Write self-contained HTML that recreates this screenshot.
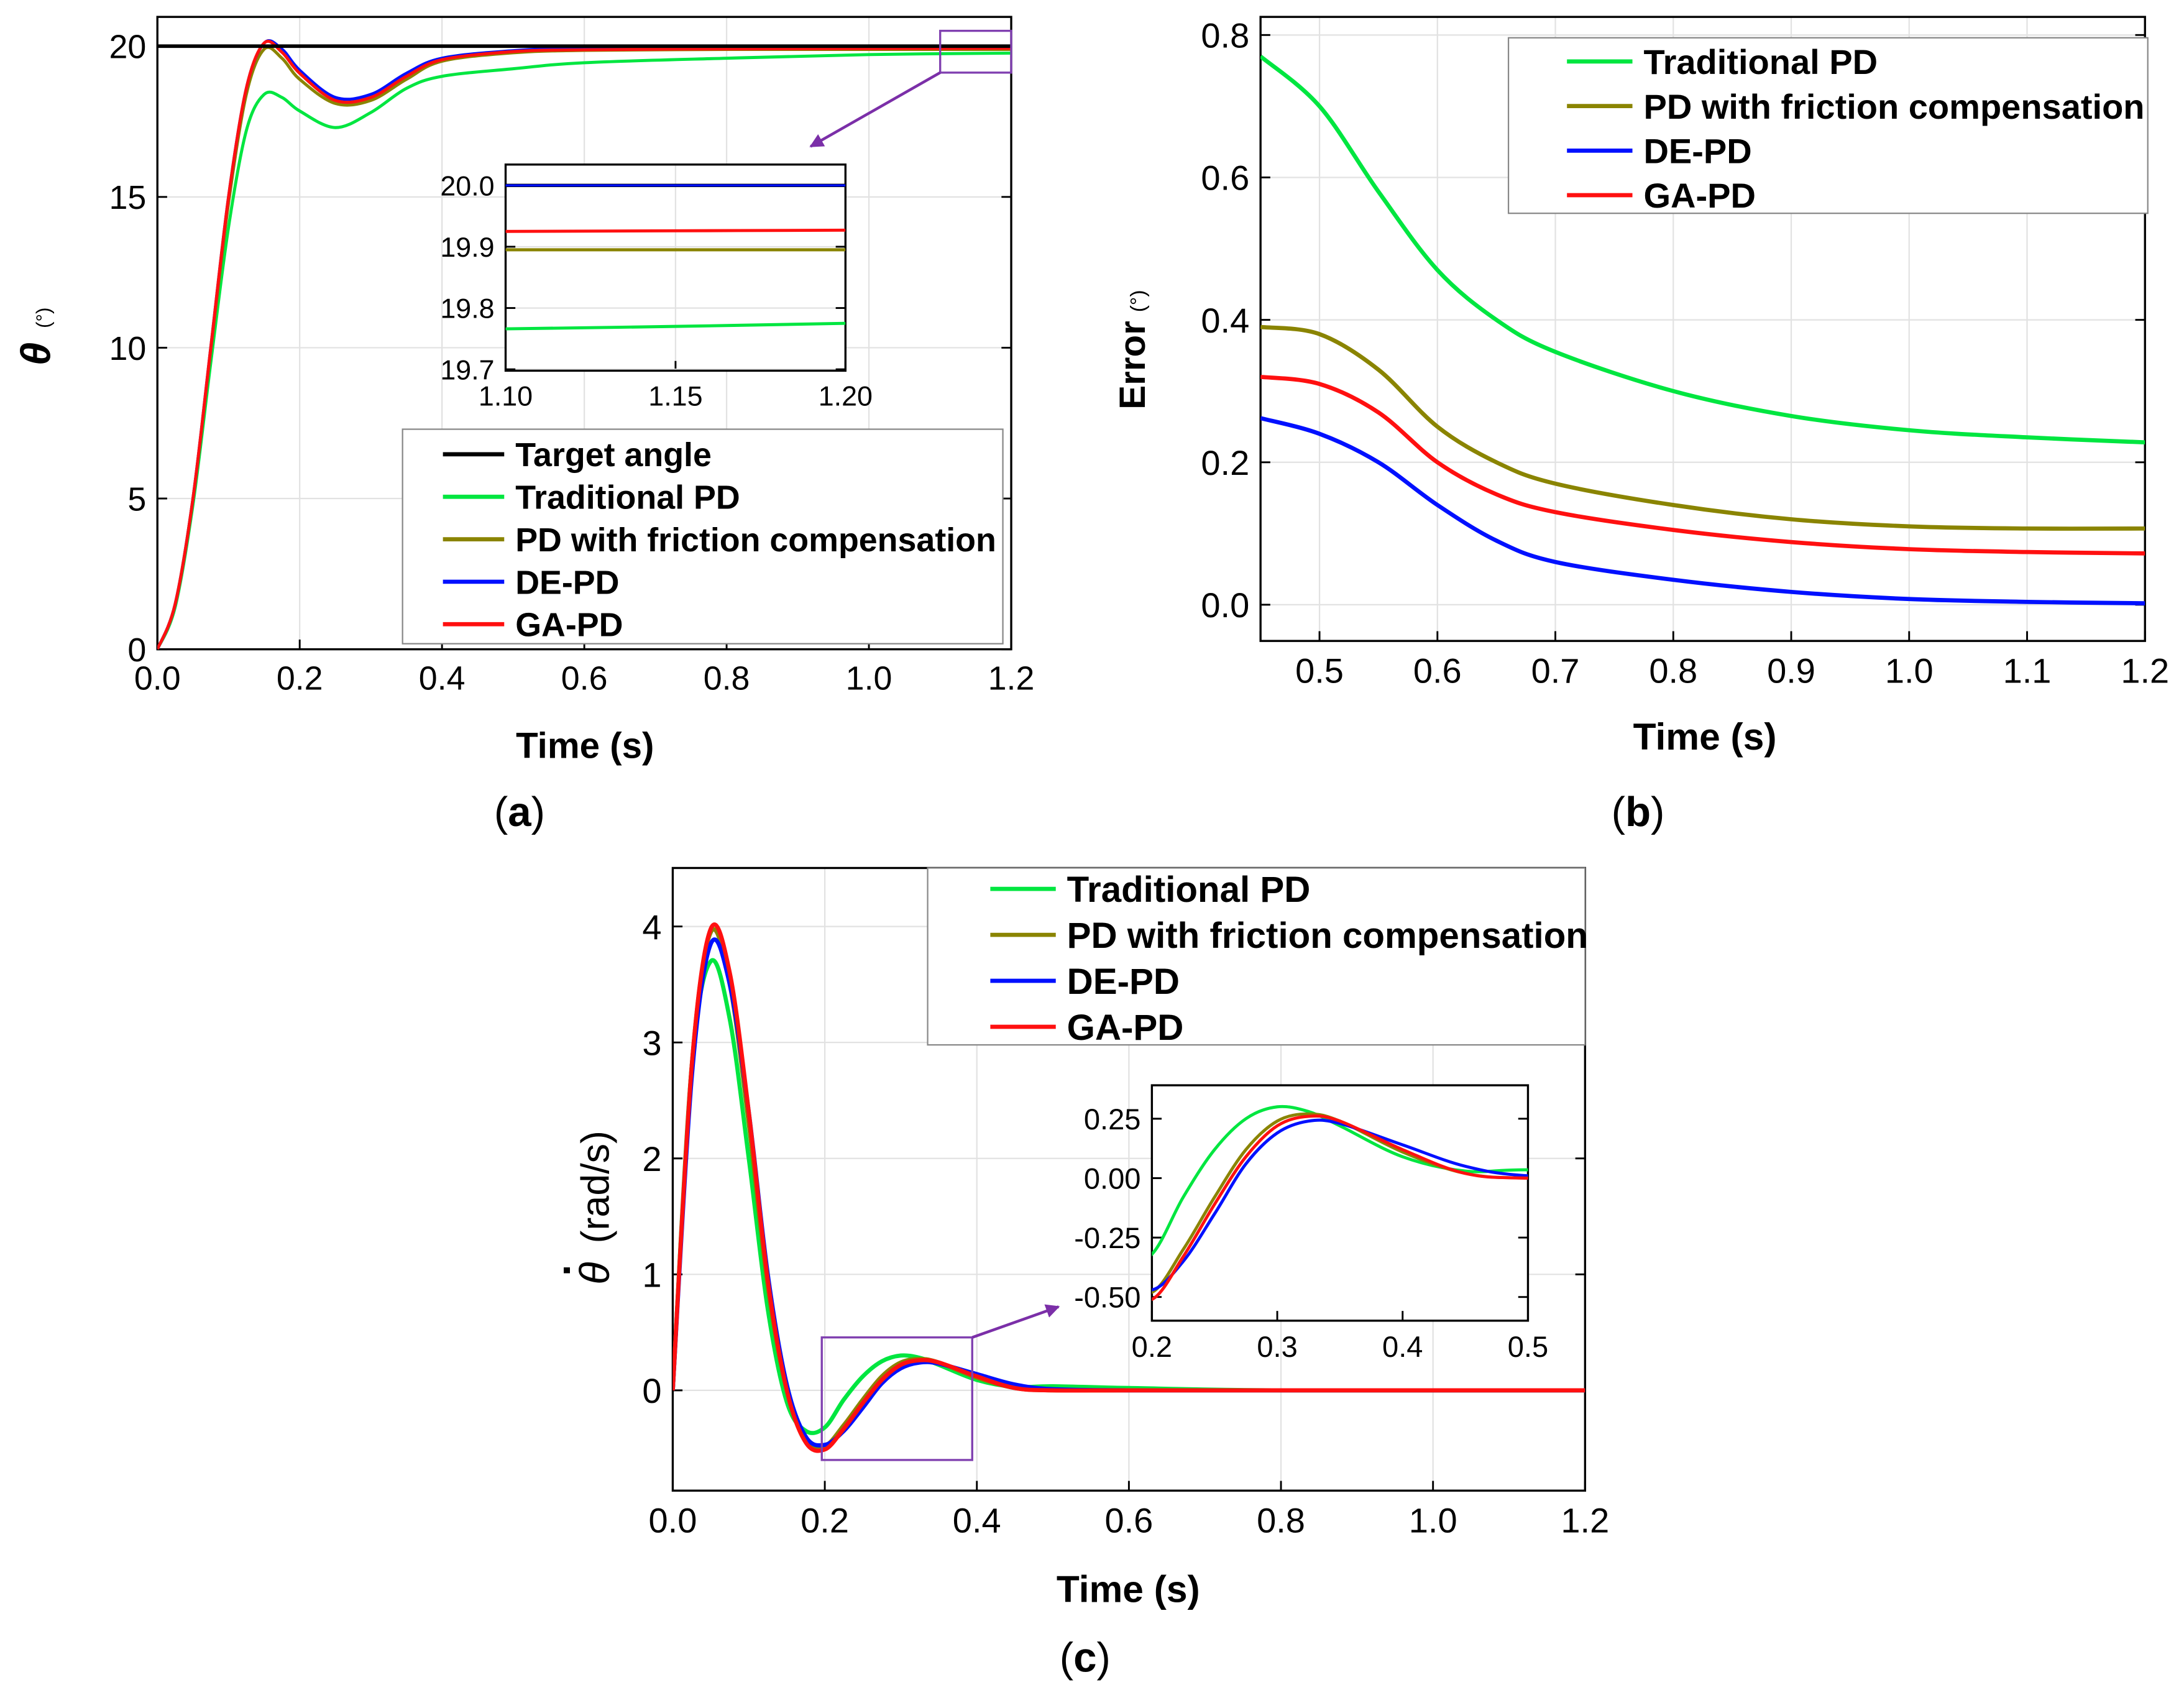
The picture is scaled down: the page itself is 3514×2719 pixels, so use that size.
<!DOCTYPE html>
<html><head><meta charset="utf-8"><style>
html,body{margin:0;padding:0;background:#fff}
svg{display:block}
text{font-family:"Liberation Sans",sans-serif}
</style></head><body>
<svg id="s" width="3514" height="2719" viewBox="0 0 1568 1213" xmlns="http://www.w3.org/2000/svg">
<defs>
<clipPath id="ca"><rect x="113" y="12" width="613" height="454"/></clipPath>
<clipPath id="cai"><rect x="363" y="118" width="244" height="148"/></clipPath>
<clipPath id="cb"><rect x="905" y="12" width="635" height="448"/></clipPath>
<clipPath id="cc"><rect x="483" y="623" width="655" height="447"/></clipPath>
<clipPath id="cci"><rect x="827" y="779" width="270" height="169"/></clipPath>
<marker id="ar" viewBox="0 0 10 10" refX="9" refY="5" markerWidth="5" markerHeight="5" orient="auto"><path d="M0,0L10,5L0,10z" fill="#7b2fa8"/></marker>
</defs>
<g id="root"></g>
</svg>
<script>
// ---------- data ----------
const tA=[0,0.025,0.05,0.075,0.1,0.125,0.15,0.175,0.2,0.25,0.3,0.35,0.4,0.5,0.6,0.8,1.0,1.2];
const aTarget=[20,20,20,20,20,20,20,20,20,20,20,20,20,20,20,20,20,20];
const aTrad=[0,1.4,4.8,9.5,14,17.2,18.4,18.3,17.85,17.3,17.8,18.6,19.0,19.25,19.45,19.6,19.72,19.77];
const aFric=[0,1.5,5,9.9,14.8,18.4,19.9,19.6,18.9,18.1,18.2,18.9,19.5,19.78,19.86,19.89,19.89,19.89];
const aDE=[0,1.5,5,10,15,18.6,20.1,19.9,19.2,18.3,18.4,19.1,19.6,19.85,19.93,19.97,19.99,20.0];
const aGA=[0,1.5,5,10,15,18.6,20.1,19.8,19.1,18.2,18.3,19.0,19.55,19.82,19.88,19.91,19.92,19.93];
const tAi=[1.1,1.15,1.2];
const aiTrad=[19.766,19.77,19.775];
const aiFric=[19.895,19.895,19.895];
const aiDE=[20.0,20.0,20.0];
const aiGA=[19.925,19.926,19.927];
const aiTarget=[20.0,20.0,20.0];
const tB=[0.45,0.5,0.55,0.6,0.65,0.7,0.8,0.9,1.0,1.1,1.2];
const bTrad=[0.77,0.7,0.58,0.47,0.40,0.355,0.30,0.265,0.245,0.235,0.228];
const bFric=[0.39,0.38,0.33,0.25,0.2,0.17,0.14,0.12,0.11,0.107,0.107];
const bDE=[0.262,0.24,0.2,0.14,0.09,0.06,0.035,0.018,0.008,0.004,0.002];
const bGA=[0.32,0.31,0.27,0.2,0.155,0.13,0.105,0.088,0.078,0.074,0.072];
const tC=[0,0.025,0.05,0.075,0.1,0.125,0.15,0.175,0.2,0.225,0.25,0.275,0.3,0.325,0.35,0.4,0.45,0.5,0.6,0.8,1.2];
const cTrad=[0,2.8,3.7,3.2,2.0,0.7,-0.1,-0.35,-0.32,-0.08,0.12,0.25,0.3,0.28,0.22,0.09,0.03,0.035,0.02,0,0];
const cFric=[0,2.8,3.95,3.5,2.3,0.9,0,-0.42,-0.48,-0.3,-0.08,0.12,0.24,0.27,0.24,0.11,0.02,0,0,0,0];
const cDE=[0,2.7,3.85,3.5,2.4,1.0,0.05,-0.4,-0.47,-0.35,-0.15,0.06,0.19,0.24,0.23,0.14,0.05,0.01,0,0,0];
const cGA=[0,2.8,3.98,3.6,2.4,0.95,0,-0.45,-0.51,-0.33,-0.11,0.09,0.22,0.26,0.24,0.12,0.02,0,0,0,0];
const xTicksA=["0.0","0.2","0.4","0.6","0.8","1.0","1.2"], yTicksA=["0","5","10","15","20"];
const xTicksB=["0.5","0.6","0.7","0.8","0.9","1.0","1.1","1.2"], yTicksB=["0.0","0.2","0.4","0.6","0.8"];
const xTicksC=["0.0","0.2","0.4","0.6","0.8","1.0","1.2"], yTicksC=["0","1","2","3","4"];
const xTicksAi=["1.10","1.15","1.20"], yTicksAi=["19.7","19.8","19.9","20.0"];
const xTicksCi=["0.2","0.3","0.4","0.5"], yTicksCi=["0.25","0.00","-0.25","-0.50"];
// ---------- drawing ----------
const NS="http://www.w3.org/2000/svg", root=document.getElementById('root');
const C={g:'#00e640',o:'#8a8400',b:'#0010ff',r:'#ff1010',k:'#000'};
function mk(tag,at,par){const e=document.createElementNS(NS,tag);for(const k in at)e.setAttribute(k,at[k]);(par||root).appendChild(e);return e;}
function lin(d0,d1,p0,p1){return v=>p0+(v-d0)*(p1-p0)/(d1-d0);}
function path(xs,ys,X,Y){const p=xs.map((t,i)=>[X(t),Y(ys[i])]);let d='M'+p[0][0]+','+p[0][1];
 for(let i=0;i<p.length-1;i++){const a=p[Math.max(0,i-1)],b=p[i],c=p[i+1],e=p[Math.min(p.length-1,i+2)];
 d+=' C'+(b[0]+(c[0]-a[0])/6)+','+(b[1]+(c[1]-a[1])/6)+' '+(c[0]-(e[0]-b[0])/6)+','+(c[1]-(e[1]-b[1])/6)+' '+c[0]+','+c[1];}return d;}
function axes(o){
 const g=mk('g',{});
 o.xt.forEach(s=>{const x=o.X(parseFloat(s));
  if(o.grid)mk('line',{x1:x,x2:x,y1:o.t,y2:o.b,stroke:'#e2e2e2','stroke-width':1},g);
  mk('line',{x1:x,x2:x,y1:o.b,y2:o.b-7,stroke:'#000','stroke-width':1.3},g);
  const tx=mk('text',{x:x,y:o.b+o.fs+5,'font-size':o.fs,'text-anchor':'middle'},g);tx.textContent=s;
  });
 o.yt.forEach(s=>{const y=o.Y(parseFloat(s));
  if(o.grid)mk('line',{x1:o.l,x2:o.r,y1:y,y2:y,stroke:'#e2e2e2','stroke-width':1},g);
  mk('line',{x1:o.l,x2:o.l+7,y1:y,y2:y,stroke:'#000','stroke-width':1.3},g);
  mk('line',{x1:o.r,x2:o.r-7,y1:y,y2:y,stroke:'#000','stroke-width':1.3},g);
  const tx=mk('text',{x:o.l-8,y:y+o.fs*0.36,'font-size':o.fs,'text-anchor':'end'},g);tx.textContent=s;
  });
 mk('rect',{x:o.l,y:o.t,width:o.r-o.l,height:o.b-o.t,fill:'none',stroke:'#000','stroke-width':1.5},g);
 return g;}
function series(xs,ys,X,Y,col,clip,name,w){const p=mk('path',{d:path(xs,ys,X,Y),fill:'none',stroke:col,'stroke-width':w||2.2,'clip-path':'url(#'+clip+')'});
 }
function legend(x,y,w,h,items,lx,ly,dy,fs,lw,name){const g=mk('g',{});
 mk('rect',{x:x,y:y,width:w,height:h,fill:'#fff',stroke:'#888','stroke-width':1},g);
 items.forEach((it,i)=>{const yy=ly+i*dy;mk('line',{x1:lx,x2:lx+lw,y1:yy,y2:yy,stroke:it[1],'stroke-width':3},g);
  const t=mk('text',{x:lx+lw+8,y:yy+fs*0.36,'font-size':fs,'font-weight':'bold'},g);t.textContent=it[0];
  });}
function label(x,y,s,fs,bold,name,rot){const t=mk('text',{x:x,y:y,'font-size':fs,'text-anchor':'middle','font-weight':bold?'bold':'normal'});
 if(rot)t.setAttribute('transform','rotate(-90 '+x+' '+y+')');t.textContent=s;return t;}
function plabel(x,y,ch,name){const t=mk('text',{x:x,y:y,'font-size':30,'text-anchor':'middle','font-family':'Liberation Serif'});
 
 mk('tspan',{},t).textContent='(';const b=mk('tspan',{'font-weight':'bold'},t);b.textContent=ch;mk('tspan',{},t).textContent=')';}

// Panel (a)
let X=lin(0,1.2,113,726),Y=lin(0,20,466,33);
axes({name:'panel-a-axes',l:113,r:726,t:12,b:466,X,Y,xt:xTicksA,yt:yTicksA,fs:24,grid:true});
series(tA,aTrad,X,Y,C.g,'ca','a-traditional-pd');series(tA,aFric,X,Y,C.o,'ca','a-friction-pd');
series(tA,aDE,X,Y,C.b,'ca','a-de-pd');series(tA,aGA,X,Y,C.r,'ca','a-ga-pd');series(tA,aTarget,X,Y,C.k,'ca','a-target-angle',2.6);
mk('rect',{x:675,y:22,width:51,height:30,fill:'none',stroke:'#8040b0','stroke-width':1.5});
mk('line',{x1:675,y1:52,x2:582,y2:105,stroke:'#7b2fa8','stroke-width':2,'marker-end':'url(#ar)'});
let Xi=lin(1.1,1.2,363,607),Yi=lin(19.7,20.0,265,133);
mk('rect',{x:363,y:118,width:244,height:148,fill:'#fff'});
axes({name:'panel-a-inset-axes',l:363,r:607,t:118,b:266,X:Xi,Y:Yi,xt:xTicksAi,yt:yTicksAi,fs:20,grid:true});
series(tAi,aiTrad,Xi,Yi,C.g,'cai','ai-traditional');series(tAi,aiFric,Xi,Yi,C.o,'cai','ai-friction');
series(tAi,aiGA,Xi,Yi,C.r,'cai','ai-ga');series(tAi,aiTarget,Xi,Yi,C.k,'cai','ai-target',2.4);series(tAi,aiDE,Xi,Yi,C.b,'cai','ai-de',1.6);
legend(289,308,431,154,[['Target angle',C.k],['Traditional PD',C.g],['PD with friction compensation',C.o],['DE-PD',C.b],['GA-PD',C.r]],318,326,30.5,24,44,'legend-a');
label(420,544,'Time (s)',26,true,'x-axis-title-a');
let yt=label(36,254,'θ',30,true,'y-axis-title-a',true);yt.setAttribute('font-style','italic');
label(36,228,'(°)',14,false,'y-axis-unit-a',true);
plabel(373,593,'a','panel-label-a');

// Panel (b)
X=lin(0.45,1.2,905,1540);Y=lin(0,0.8,434,25);
axes({name:'panel-b-axes',l:905,r:1540,t:12,b:460,X,Y,xt:xTicksB,yt:yTicksB,fs:25,grid:true});
series(tB,bTrad,X,Y,C.g,'cb','b-traditional-pd',3);series(tB,bFric,X,Y,C.o,'cb','b-friction-pd',3);
series(tB,bGA,X,Y,C.r,'cb','b-ga-pd',3);series(tB,bDE,X,Y,C.b,'cb','b-de-pd',3);
legend(1083,27,459,126,[['Traditional PD',C.g],['PD with friction compensation',C.o],['DE-PD',C.b],['GA-PD',C.r]],1125,44,32,25,47,'legend-b');
label(1224,538,'Time (s)',27,true,'x-axis-title-b');
label(822,262,'Error',26,true,'y-axis-title-b',true);
label(822,216,'(°)',15,false,'y-axis-unit-b',true);
plabel(1176,593,'b','panel-label-b');

// Panel (c)
X=lin(0,1.2,483,1138);Y=lin(0,4,998,665);
axes({name:'panel-c-axes',l:483,r:1138,t:623,b:1070,X,Y,xt:xTicksC,yt:yTicksC,fs:25,grid:true});
series(tC,cTrad,X,Y,C.g,'cc','c-traditional-pd',3);series(tC,cFric,X,Y,C.o,'cc','c-friction-pd',3);
series(tC,cDE,X,Y,C.b,'cc','c-de-pd',3);series(tC,cGA,X,Y,C.r,'cc','c-ga-pd',3);
mk('rect',{x:590,y:960,width:108,height:88,fill:'none',stroke:'#8040b0','stroke-width':1.5});
mk('line',{x1:698,y1:960,x2:760,y2:938,stroke:'#7b2fa8','stroke-width':2,'marker-end':'url(#ar)'});
legend(666,623,472,127,[['Traditional PD',C.g],['PD with friction compensation',C.o],['DE-PD',C.b],['GA-PD',C.r]],711,638,33,26,47,'legend-c');
Xi=lin(0.2,0.5,827,1097);Yi=lin(-0.5,0.25,931,803);
mk('rect',{x:827,y:779,width:270,height:169,fill:'#fff'});
axes({name:'panel-c-inset-axes',l:827,r:1097,t:779,b:948,X:Xi,Y:Yi,xt:xTicksCi,yt:yTicksCi,fs:21,grid:false});
series(tC,cTrad,Xi,Yi,C.g,'cci','ci-traditional');series(tC,cFric,Xi,Yi,C.o,'cci','ci-friction');
series(tC,cDE,Xi,Yi,C.b,'cci','ci-de');series(tC,cGA,Xi,Yi,C.r,'cci','ci-ga');
label(810,1150,'Time (s)',27,true,'x-axis-title-c');
let yc=label(437,852,'(rad/s)',28,false,'y-axis-title-c',true);yc.setAttribute('font-family','Liberation Serif');
let th=label(437,914,'θ',30,false,'y-axis-theta-c',true);th.setAttribute('font-family','Liberation Serif');th.setAttribute('font-style','italic');
label(417,911,'·',30,true,'y-axis-dot-c',true);
plabel(779,1200,'c','panel-label-c');
</script>
</body></html>
